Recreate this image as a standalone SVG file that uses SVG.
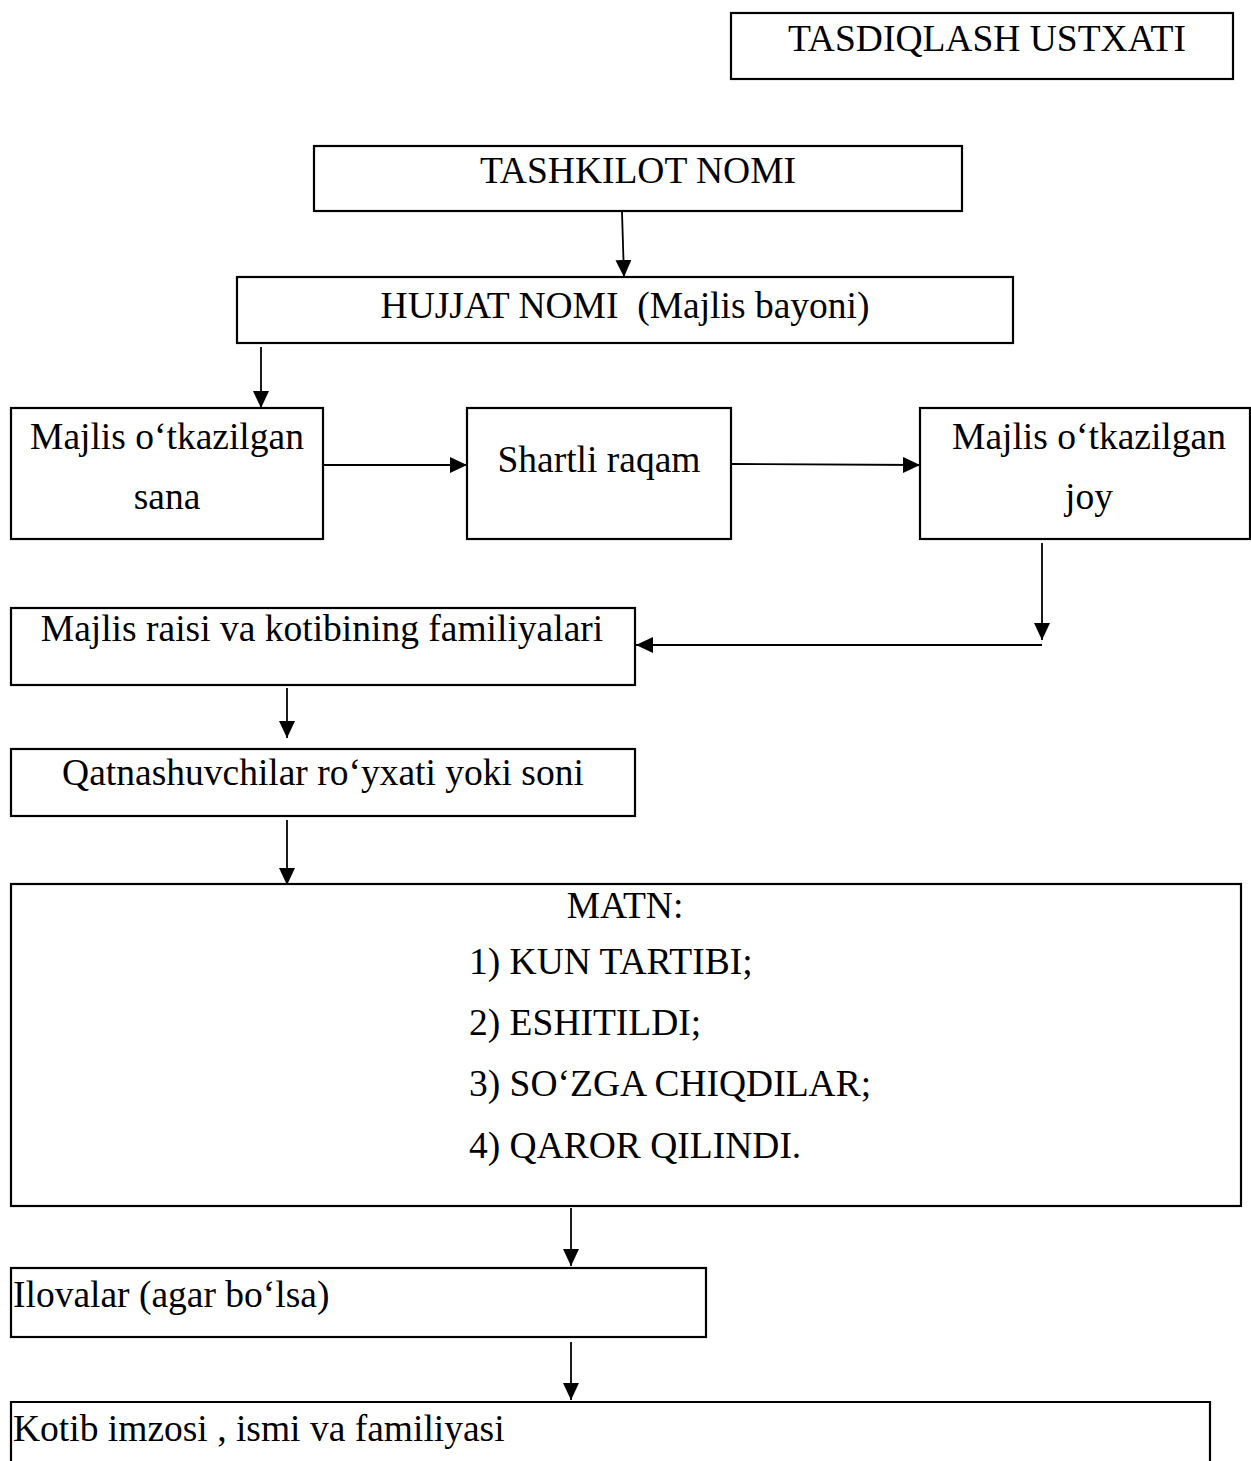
<svg xmlns="http://www.w3.org/2000/svg" width="1251" height="1461" viewBox="0 0 1251 1461">
  <style>
    .box { fill: #fff; stroke: #000; stroke-width: 2.2; }
    .lbl { font-family: "Liberation Serif", "Times New Roman", serif; font-size: 37.5px; fill: #000; }
    .mid { text-anchor: middle; }
    .edge { stroke: #000; stroke-width: 1.8; fill: none; }
    .head { fill: #000; }
  </style>
  <defs>
    <marker id="arrow" viewBox="0 0 17 16" refX="17" refY="8" markerWidth="17" markerHeight="16" markerUnits="userSpaceOnUse" orient="auto">
      <path d="M0,0 L17,8 L0,16 Z" class="head"/>
    </marker>
  </defs>

  <rect width="1251" height="1461" fill="#fff"/>

  <!-- connectors -->
  <g id="connectors">
    <line class="edge" x1="622" y1="212" x2="624" y2="277" marker-end="url(#arrow)"/>
    <line class="edge" x1="261" y1="347" x2="261" y2="408" marker-end="url(#arrow)"/>
    <line class="edge" x1="324" y1="465" x2="467" y2="465" stroke-width="2.4" marker-end="url(#arrow)"/>
    <line class="edge" x1="732" y1="464" x2="920" y2="465" stroke-width="2.4" marker-end="url(#arrow)"/>
    <line class="edge" x1="1042" y1="543" x2="1042" y2="640" marker-end="url(#arrow)"/>
    <line class="edge" x1="1042" y1="645" x2="636" y2="645" stroke-width="2.4" marker-end="url(#arrow)"/>
    <line class="edge" x1="287" y1="688" x2="287" y2="738" marker-end="url(#arrow)"/>
    <line class="edge" x1="287" y1="820" x2="287" y2="885" marker-end="url(#arrow)"/>
    <line class="edge" x1="571" y1="1208" x2="571" y2="1266" marker-end="url(#arrow)"/>
    <line class="edge" x1="571" y1="1342" x2="571" y2="1400" marker-end="url(#arrow)"/>
  </g>

  <g id="tasdiqlash">
    <rect class="box" x="731" y="13" width="502" height="66"/>
    <text class="lbl mid" x="987" y="51">TASDIQLASH USTXATI</text>
  </g>

  <g id="tashkilot">
    <rect class="box" x="314" y="146" width="648" height="65"/>
    <text class="lbl mid" x="638" y="183">TASHKILOT NOMI</text>
  </g>

  <g id="hujjat">
    <rect class="box" x="237" y="277" width="776" height="66"/>
    <text class="lbl mid" x="625" y="318" xml:space="preserve">HUJJAT NOMI  (Majlis bayoni)</text>
  </g>

  <g id="sana">
    <rect class="box" x="11" y="408" width="312" height="131"/>
    <text class="lbl mid" x="167" y="449">Majlis o‘tkazilgan</text>
    <text class="lbl mid" x="167" y="509">sana</text>
  </g>

  <g id="raqam">
    <rect class="box" x="467" y="408" width="264" height="131"/>
    <text class="lbl mid" x="599" y="472">Shartli raqam</text>
  </g>

  <g id="joy">
    <rect class="box" x="920" y="408" width="330" height="131"/>
    <text class="lbl mid" x="1089" y="449">Majlis o‘tkazilgan</text>
    <text class="lbl mid" x="1089" y="509">joy</text>
  </g>

  <g id="raisi">
    <rect class="box" x="11" y="608" width="624" height="77"/>
    <text class="lbl mid" x="322" y="641">Majlis raisi va kotibining familiyalari</text>
  </g>

  <g id="qatnashuvchilar">
    <rect class="box" x="11" y="749" width="624" height="67"/>
    <text class="lbl mid" x="323" y="785">Qatnashuvchilar ro‘yxati yoki soni</text>
  </g>

  <g id="matn">
    <rect class="box" x="11" y="884" width="1230" height="322"/>
    <text class="lbl mid" x="625" y="918">MATN:</text>
    <text class="lbl" x="469" y="974">1) KUN TARTIBI;</text>
    <text class="lbl" x="469" y="1035">2) ESHITILDI;</text>
    <text class="lbl" x="469" y="1096">3) SO‘ZGA CHIQDILAR;</text>
    <text class="lbl" x="469" y="1158">4) QAROR QILINDI.</text>
  </g>

  <g id="ilovalar">
    <rect class="box" x="11" y="1268" width="695" height="69"/>
    <text class="lbl" x="13" y="1307">Ilovalar (agar bo‘lsa)</text>
  </g>

  <g id="kotib">
    <path class="box" d="M11,1470 L11,1402 L1210,1402 L1210,1470"/>
    <text class="lbl" x="13" y="1441">Kotib imzosi , ismi va familiyasi</text>
  </g>
</svg>
